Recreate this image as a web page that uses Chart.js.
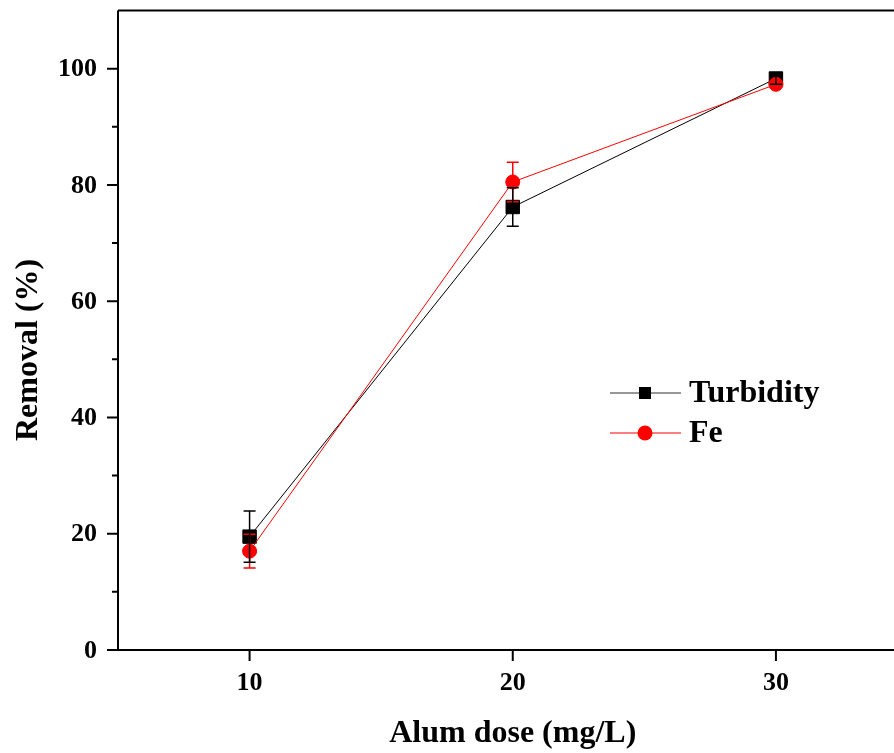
<!DOCTYPE html>
<html>
<head>
<meta charset="utf-8">
<script src="https://cdn.jsdelivr.net/npm/chart.js@4/dist/chart.umd.min.js"></script>
<style>
html,body{margin:0;padding:0;background:#fff;overflow:hidden;}
#wrap{width:918px;height:753px;}
</style>
</head>
<body>
<div id="wrap"><canvas id="c" width="918" height="753" style="width:918px;height:753px;"></canvas></div>
<script>
const doses = [10, 20, 30];
const turbidity = [19.5, 76.2, 98.3];
const turbidityErr = [4.4, 3.3, 1.0];
const fe = [17.0, 80.5, 97.3];
const feErr = [2.9, 3.4, 0.5];
const xTicks = [10, 20, 30];
const yTicks = [0, 20, 40, 60, 80, 100];
const yMinorTicks = [10, 30, 50, 70, 90];
const seriesNames = ['Turbidity', 'Fe'];
const xTitle = 'Alum dose (mg/L)';
const yTitle = 'Removal (%)';

const FONT = '"Liberation Serif", "Times New Roman", serif';

const toPts = (ys) => doses.map((x, i) => ({x, y: ys[i]}));

const decor = {
  id: 'decor',
  afterDatasetsDraw(chart) {
    const ctx = chart.ctx;
    const xs = chart.scales.x, ys = chart.scales.y;
    ctx.save();
    const drawErr = (vals, errs, color) => {
      ctx.strokeStyle = color;
      ctx.lineWidth = 1.5;
      vals.forEach((v, i) => {
        const px = xs.getPixelForValue(doses[i]);
        const top = ys.getPixelForValue(v + errs[i]);
        const bot = ys.getPixelForValue(v - errs[i]);
        ctx.beginPath();
        ctx.moveTo(px, top); ctx.lineTo(px, bot);
        ctx.moveTo(px - 6, top); ctx.lineTo(px + 6, top);
        ctx.moveTo(px - 6, bot); ctx.lineTo(px + 6, bot);
        ctx.stroke();
      });
    };
    drawErr(fe, feErr, '#ff0000');
    drawErr(turbidity, turbidityErr, '#000000');
    ctx.restore();
  },
  afterDraw(chart) {
    const ctx = chart.ctx;
    const xs = chart.scales.x, ys = chart.scales.y;
    const a = chart.chartArea;
    ctx.save();
    ctx.strokeStyle = '#000';
    ctx.lineWidth = 2;
    ctx.beginPath();
    ctx.moveTo(a.left, a.top); ctx.lineTo(a.right, a.top); ctx.lineTo(a.right, a.bottom);
    ctx.moveTo(a.left, a.top); ctx.lineTo(a.left, a.bottom); ctx.lineTo(a.right, a.bottom);
    ctx.stroke();
    ctx.beginPath();
    yTicks.forEach(v => { const py = ys.getPixelForValue(v); ctx.moveTo(a.left - 11, py); ctx.lineTo(a.left, py); });
    yMinorTicks.forEach(v => { const py = ys.getPixelForValue(v); ctx.moveTo(a.left - 6, py); ctx.lineTo(a.left, py); });
    xTicks.forEach(v => { const px = xs.getPixelForValue(v); ctx.moveTo(px, a.bottom); ctx.lineTo(px, a.bottom + 11); });
    ctx.stroke();
    ctx.fillStyle = '#000';
    ctx.font = 'bold 26px ' + FONT;
    ctx.textBaseline = 'middle';
    ctx.textAlign = 'right';
    yTicks.forEach(v => ctx.fillText(String(v), a.left - 21, ys.getPixelForValue(v) + 1));
    ctx.textAlign = 'center';
    xTicks.forEach(v => ctx.fillText(String(v), xs.getPixelForValue(v), a.bottom + 33));
    ctx.font = 'bold 32px ' + FONT;
    ctx.textAlign = 'center';
    ctx.textBaseline = 'middle';
    ctx.fillText(xTitle, (a.left + a.right) / 2, 734);
    ctx.save();
    ctx.translate(29, 350);
    ctx.rotate(-Math.PI / 2);
    ctx.fillText(yTitle, 0, 0);
    ctx.restore();
    const items = [
      {label: seriesNames[0], color: '#000000', line: '#333333', style: 'rect', y: 393},
      {label: seriesNames[1], color: '#ff0000', line: '#ff0000', style: 'circle', y: 433}
    ];
    items.forEach(it => {
      ctx.strokeStyle = it.line;
      ctx.lineWidth = 1.2;
      ctx.beginPath(); ctx.moveTo(610, it.y); ctx.lineTo(681, it.y); ctx.stroke();
      ctx.fillStyle = it.color;
      if (it.style === 'rect') { ctx.fillRect(639, it.y - 6, 12, 12); }
      else { ctx.beginPath(); ctx.arc(645, it.y, 7.5, 0, Math.PI * 2); ctx.fill(); }
      ctx.fillStyle = '#000';
      ctx.font = 'bold 32px ' + FONT;
      ctx.textAlign = 'left';
      ctx.textBaseline = 'middle';
      ctx.fillText(it.label, 689, it.y + 1);
    });
    ctx.restore();
  }
};

new Chart(document.getElementById('c'), {
  type: 'line',
  data: {
    datasets: [
      {
        label: seriesNames[0], data: toPts(turbidity), order: 1,
        borderColor: '#000000', backgroundColor: '#000000', borderWidth: 1,
        pointStyle: 'rect', pointRadius: 9.5, pointBorderWidth: 1,
        pointBackgroundColor: '#000000', pointBorderColor: '#000000'
      },
      {
        label: seriesNames[1], data: toPts(fe), order: 0,
        borderColor: '#ff0000', backgroundColor: '#ff0000', borderWidth: 1,
        pointStyle: 'circle', pointRadius: 7, pointBorderWidth: 1,
        pointBackgroundColor: '#ff0000', pointBorderColor: '#ff0000'
      }
    ]
  },
  options: {
    responsive: false,
    animation: false,
    devicePixelRatio: 1,
    layout: {padding: {top: 9, right: 5, left: 0, bottom: 0}},
    plugins: {legend: {display: false}, tooltip: {enabled: false}},
    scales: {
      x: {
        type: 'linear', min: 5, max: 35,
        grid: {display: false, drawTicks: false},
        border: {display: false},
        afterBuildTicks: s => { s.ticks = xTicks.map(v => ({value: v})); },
        afterFit: s => { s.height = 103; },
        ticks: {display: false}
      },
      y: {
        type: 'linear', min: 0, max: 110,
        grid: {display: false, drawTicks: false},
        border: {display: false},
        afterBuildTicks: s => { s.ticks = yTicks.map(v => ({value: v})); },
        afterFit: s => { s.width = 118; },
        ticks: {display: false}
      }
    }
  },
  plugins: [decor]
});
</script>
</body>
</html>
